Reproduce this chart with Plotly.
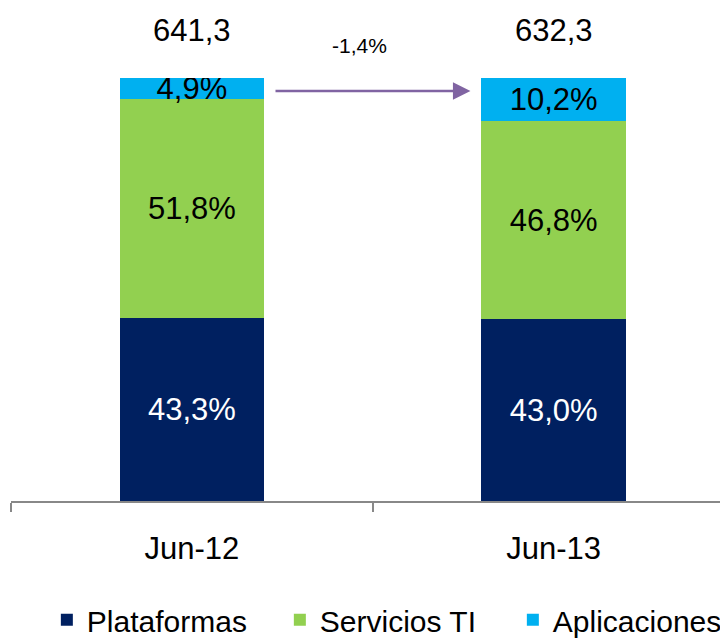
import plotly.graph_objects as go

periods = ["Jun-12", "Jun-13"]
totals = [641.3, 632.3]
plataformas = [43.3, 43.0]
servicios = [51.8, 46.8]
aplicaciones = [4.9, 10.2]

FONT = "Liberation Sans Narrow, Arial Narrow, Liberation Sans, sans-serif"

fig = go.Figure()

series = [
    ("Plataformas", plataformas, "#002060", "white"),
    ("Servicios TI", servicios, "#92D050", "black"),
    ("Aplicaciones", aplicaciones, "#00B0F0", "black"),
]
for name, vals, color, tcolor in series:
    fig.add_trace(go.Bar(
        x=periods, y=vals, name=name,
        marker=dict(color=color, line=dict(width=0)),
        width=0.4,
        texttemplate="%{y:.1f}%",
        textposition="inside",
        insidetextanchor="middle",
        constraintext="none",
        textfont=dict(size=31, color=tcolor, family=FONT),
        hoverinfo="skip",
    ))

# totals above bars
for p, t in zip(periods, totals):
    fig.add_annotation(x=p, y=1.113, yref="paper", yanchor="middle",
                       text=f"{t:.1f}".replace(".", ","),
                       showarrow=False, font=dict(size=31, color="black", family=FONT))

# change arrow
delta = (totals[1] / totals[0] - 1) * 100
fig.add_annotation(x=0.77, y=96.9, ax=0.227, ay=96.9, xref="x", yref="y", axref="x", ayref="y",
                   text="", showarrow=True, arrowhead=2, arrowsize=1.4, arrowwidth=2.5,
                   arrowcolor="#8064A2")
fig.add_annotation(x=0.462, y=1.078, xref="x", yref="paper", yanchor="middle",
                   text=f"{delta:.1f}%".replace(".", ","), showarrow=False,
                   font=dict(size=21, color="black", family=FONT))

# page body has an 8px margin, so the figure is 8px smaller and shifted
fig.update_layout(
    barmode="stack",
    width=720, height=632,
    margin=dict(l=3, r=0, t=70, b=139, autoexpand=False),
    paper_bgcolor="white", plot_bgcolor="white",
    separators=",.",
    font=dict(family=FONT, color="black", size=30),
    showlegend=True,
    legend=dict(orientation="h", x=0.050, y=-0.281, yanchor="middle", xanchor="left",
                font=dict(size=30, family=FONT), traceorder="normal",
                itemwidth=30, entrywidth=188, bgcolor="rgba(0,0,0,0)"),
    xaxis=dict(range=[-0.5, 1.482], showline=True, linecolor="#888888", linewidth=2,
               ticks="outside", tickson="boundaries", ticklen=9, tickwidth=2, tickcolor="#888888",
               ticklabelstandoff=19,
               tickfont=dict(size=31, family=FONT), showgrid=False, fixedrange=True),
    yaxis=dict(range=[0, 100], visible=False, fixedrange=True),
)

fig.write_html("out.html")
